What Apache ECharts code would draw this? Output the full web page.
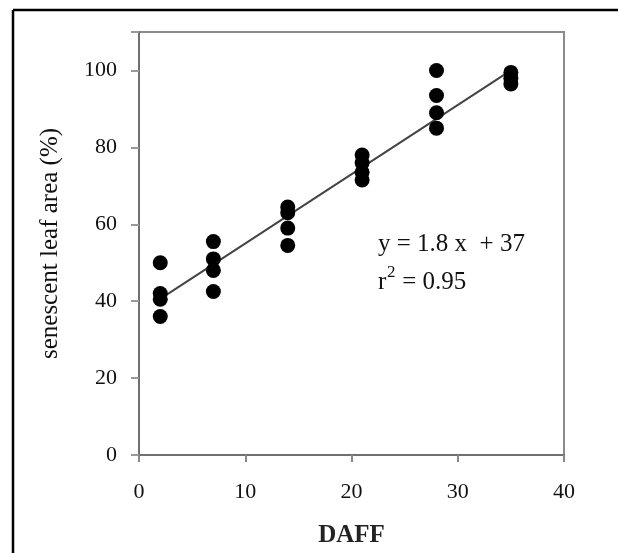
<!DOCTYPE html>
<html>
<head>
<meta charset="utf-8">
<script src="https://cdn.jsdelivr.net/npm/echarts@6/dist/echarts.min.js"></script>
<style>
  html, body { margin: 0; padding: 0; background: #fff; }
  #chart { width: 618px; height: 553px; }
</style>
</head>
<body>
<div id="chart"></div>
<script>
// Days after full flowering (sampling dates)
const daff = [2, 7, 14, 21, 28, 35];
// Senescent leaf area (%) measured on each date
const senescenceAt2 = [50, 42, 40.5, 36];
const senescenceAt7 = [55.5, 51, 48, 42.5];
const senescenceAt14 = [64.5, 63, 59, 54.5];
const senescenceAt21 = [78, 76, 73.5, 71.5];
const senescenceAt28 = [100, 93.5, 89, 85];
const senescenceAt35 = [99.5, 98, 96.5];
const groups = [senescenceAt2, senescenceAt7, senescenceAt14, senescenceAt21, senescenceAt28, senescenceAt35];

// Linear regression reported on the chart
const slope = 1.8;
const intercept = 37;
const rSquared = 0.95;
const fitRange = [2, 35];

// Axis ticks
const xTicks = [0, 10, 20, 30, 40];
const yTicks = [0, 20, 40, 60, 80, 100];

const points = [];
daff.forEach((d, i) => groups[i].forEach(v => points.push([d, v])));
const fitLine = fitRange.map(x => [x, slope * x + intercept]);

const serif = '"Liberation Serif", "DejaVu Serif", serif';
const axisGray = '#707070';
const ink = '#111';

const chart = echarts.init(document.getElementById('chart'));
chart.setOption({
  animation: false,
  backgroundColor: '#fff',
  grid: { left: 139, top: 32, right: 54, bottom: 98, show: true, borderColor: '#8a8a8a', borderWidth: 2 },
  xAxis: {
    type: 'value', min: 0, max: 40, interval: 10,
    name: 'DAFF', nameLocation: 'middle', nameGap: 68,
    nameTextStyle: { fontFamily: serif, fontSize: 25, fontWeight: 'bold', color: '#222' },
    axisLine: { lineStyle: { color: axisGray, width: 2 } },
    axisTick: { show: true, length: 7, lineStyle: { color: '#888', width: 2 } },
    axisLabel: { margin: 26, fontFamily: serif, fontSize: 22, color: ink, formatter: v => xTicks.includes(v) ? String(v) : '' },
    splitLine: { show: false }
  },
  yAxis: {
    type: 'value', min: 0, max: 110, interval: 20,
    name: 'senescent leaf area (%)', nameLocation: 'middle', nameGap: 76, nameRotate: 90,
    nameTextStyle: { fontFamily: serif, fontSize: 25, color: ink },
    axisLine: { lineStyle: { color: axisGray, width: 2 } },
    axisTick: { show: true, length: 8, lineStyle: { color: '#999', width: 2 } },
    axisLabel: { margin: 22, fontFamily: serif, fontSize: 22, color: ink, formatter: v => yTicks.includes(v) ? String(v) : '' },
    splitLine: { show: false }
  },
  series: [
    {
      type: 'line', data: fitLine, symbol: 'none',
      lineStyle: { color: '#444', width: 2 }, z: 2
    },
    {
      type: 'scatter', data: points, symbol: 'circle', symbolSize: 15,
      itemStyle: { color: '#000', opacity: 1 }, z: 3
    }
  ],
  graphic: [
    { type: 'line', shape: { x1: 13, y1: 10, x2: 13, y2: 553 }, style: { stroke: '#000', lineWidth: 2.5 } },
    { type: 'line', shape: { x1: 13, y1: 10, x2: 618, y2: 10 }, style: { stroke: '#000', lineWidth: 2.5 } },
    { type: 'text', left: 378, top: 232,
      style: { text: 'y = ' + slope + ' x  + ' + intercept, font: '25px ' + serif, fill: ink } },
    { type: 'text', left: 378, top: 270,
      style: { text: 'r', font: '25px ' + serif, fill: ink } },
    { type: 'text', left: 387, top: 264,
      style: { text: '2', font: '17px ' + serif, fill: ink } },
    { type: 'text', left: 396, top: 270,
      style: { text: ' = ' + rSquared.toFixed(2), font: '25px ' + serif, fill: ink } }
  ]
});
</script>
</body>
</html>
